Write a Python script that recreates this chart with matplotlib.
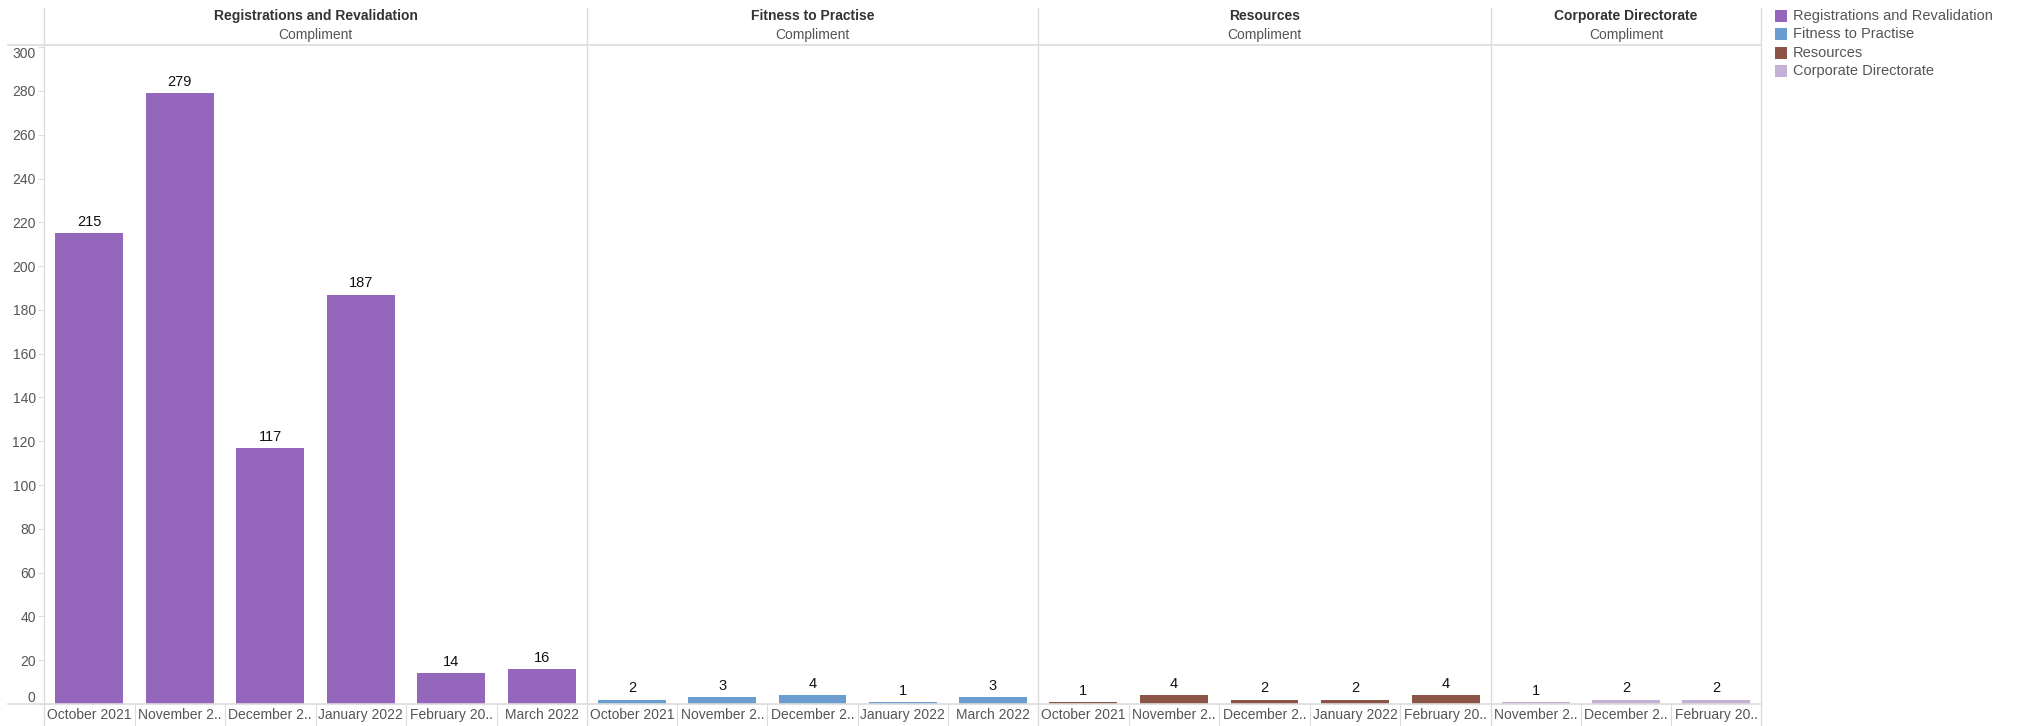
import matplotlib.pyplot as plt
import matplotlib.transforms as mtransforms
from matplotlib.lines import Line2D
from matplotlib.patches import Rectangle

plt.rcParams['font.family'] = ['Liberation Sans', 'DejaVu Sans']

# compliments per directorate and month
reg_months = ['October 2021', 'November 2..', 'December 2..', 'January 2022', 'February 20..', 'March 2022']
reg_values = [215, 279, 117, 187, 14, 16]
ftp_months = ['October 2021', 'November 2..', 'December 2..', 'January 2022', 'March 2022']
ftp_values = [2, 3, 4, 1, 3]
res_months = ['October 2021', 'November 2..', 'December 2..', 'January 2022', 'February 20..']
res_values = [1, 4, 2, 2, 4]
corp_months = ['November 2..', 'December 2..', 'February 20..']
corp_values = [1, 2, 2]

directorates = ['Registrations and Revalidation', 'Fitness to Practise', 'Resources', 'Corporate Directorate']
colors = ['#9467bd', '#6c9dd0', '#8c5446', '#c5b0d6']
panels = [(reg_months, reg_values), (ftp_months, ftp_values),
          (res_months, res_values), (corp_months, corp_values)]

W, H = 2017, 726
fig = plt.figure(figsize=(W / 100, H / 100), dpi=100)

line_c = '#dcdcdc'
text_c = '#555555'
edges = [44, 587, 1038, 1491, 1761]
top, base = 45, 704

def fx(px):
    return px / W

def fy(py):
    return 1 - py / H

def nudge(label, dy_px):
    label.set_transform(label.get_transform() +
                        mtransforms.ScaledTranslation(0, dy_px / 100, fig.dpi_scale_trans))

for k, (months, values) in enumerate(panels):
    x0, x1 = edges[k], edges[k + 1]
    ax = fig.add_axes([fx(x0), fy(base), fx(x1 - x0), (base - top) / H])
    idx = list(range(len(months)))
    ax.bar(idx, values, width=0.75, color=colors[k])
    for i, v in zip(idx, values):
        ax.annotate(str(v), (i, v), xytext=(0, 3), textcoords='offset points',
                    ha='center', va='bottom', fontsize=10.5, color='#111111')
    ax.set_xlim(-0.5, len(months) - 0.5)
    ax.set_ylim(0, 301)
    for s in ax.spines.values():
        s.set_visible(False)
    ax.set_xticks(idx)
    ax.set_xticklabels(months, fontsize=10, color=text_c)
    ax.set_xticks([i + 0.5 for i in idx[:-1]], minor=True)
    ax.tick_params(axis='x', which='major', length=0, pad=3)
    ax.tick_params(axis='x', which='minor', length=16, width=0.8, color=line_c)
    if k == 0:
        ax.set_yticks(range(0, 301, 20))
        ax.tick_params(axis='y', length=4, width=0.8, color=line_c,
                       labelsize=10, labelcolor=text_c, pad=2)
        # end labels stay inside the plot band
        ylabels = ax.get_yticklabels()
        nudge(ylabels[0], 8)
        nudge(ylabels[-1], -5)
    else:
        ax.set_yticks([])

    cx = fx((x0 + x1) / 2)
    fig.text(cx, fy(16), directorates[k], ha='center', va='center',
             fontsize=10, fontweight='bold', color='#333333')
    fig.text(cx, fy(35), 'Compliment', ha='center', va='center',
             fontsize=10, color=text_c)

# panel dividers, header rule and baseline
for x in edges:
    fig.add_artist(Line2D([fx(x), fx(x)], [fy(8), 0], color=line_c, lw=1))
fig.add_artist(Line2D([fx(8), fx(1761)], [fy(top), fy(top)], color=line_c, lw=1.2))
fig.add_artist(Line2D([fx(8), fx(1761)], [fy(base), fy(base)], color=line_c, lw=1.2))

# legend
for j, name in enumerate(directorates):
    yc = [16, 34, 53, 71][j]
    fig.add_artist(Rectangle((fx(1775), fy(yc + 6)), fx(12), 12 / H,
                             facecolor=colors[j], edgecolor='none'))
    fig.text(fx(1793), fy(yc), name, ha='left', va='center',
             fontsize=10.5, color=text_c)

fig.savefig('out.png', dpi=100)
